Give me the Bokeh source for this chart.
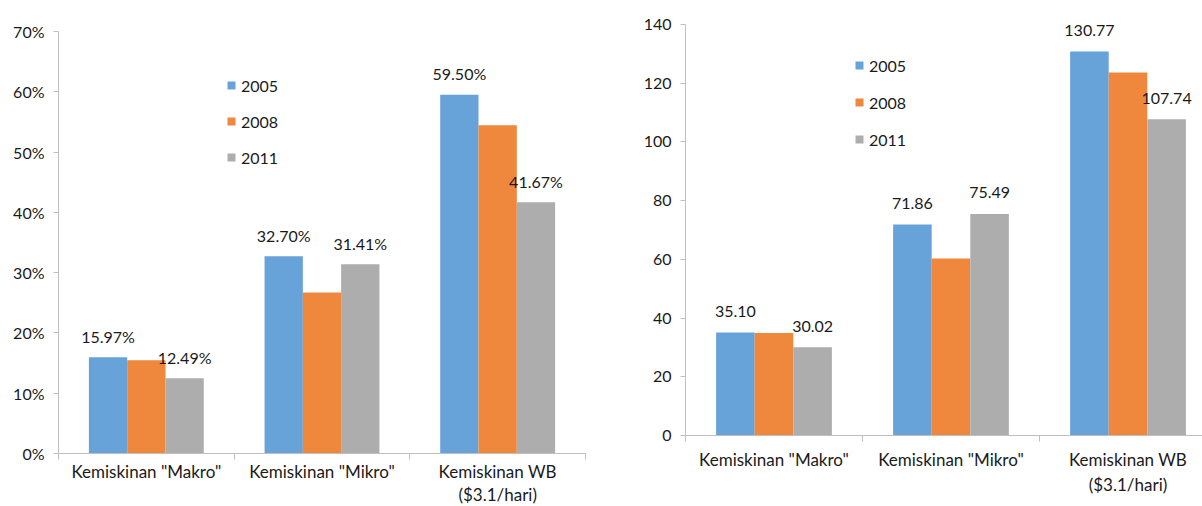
import numpy as np
from jinja2 import Template
from bokeh.plotting import figure
from bokeh.models import (Range1d, FixedTicker, PrintfTickFormatter, Legend,
                          LegendItem, ColumnDataSource)
from bokeh.embed import file_html
from bokeh.resources import INLINE
from bokeh.core.properties import value

# --- data -------------------------------------------------------------
categories = ['Kemiskinan "Makro"', 'Kemiskinan "Mikro"', 'Kemiskinan WB\n($3.1/hari)']
years = ["2005", "2008", "2011"]

# poverty rate (%)
rate_2005 = [15.97, 32.70, 59.50]
rate_2008 = [15.45, 26.70, 54.45]
rate_2011 = [12.49, 31.41, 41.67]

# number of poor people (millions)
count_2005 = [35.10, 71.86, 130.77]
count_2008 = [34.95, 60.25, 123.65]
count_2011 = [30.02, 75.49, 107.74]

# --- style ------------------------------------------------------------
FONT = "Lato"
TEXT = "#1a1a1a"
AXIS = "#bfbfbf"
COLORS = ["#67a3d9", "#ef873d", "#adadad"]
BAR_W = 0.218
OFFSETS = [-BAR_W, 0.0, BAR_W]


def make_panel(series, y_end, y_step, fmt, label_fmt, width, height,
               border_left, border_right, border_top, border_bottom,
               x_end, legend_loc, legend_spacing, cat_standoff, cat_line_height):
    p = figure(width=width, height=height, output_backend="svg",
               toolbar_location=None, x_range=Range1d(0, x_end),
               y_range=Range1d(0, y_end),
               min_border_left=border_left, min_border_right=border_right,
               min_border_top=border_top, min_border_bottom=border_bottom)
    p.background_fill_color = "white"
    p.border_fill_color = "white"
    p.outline_line_color = None
    p.grid.visible = False

    centers = np.arange(len(categories)) + 0.5
    items = []
    for i, (vals, yr) in enumerate(zip(series, years)):
        src = ColumnDataSource(dict(x=centers + OFFSETS[i], top=vals,
                                    label=[label_fmt % v for v in vals]))
        r = p.vbar(x="x", top="top", width=BAR_W, bottom=0, source=src,
                   fill_color=COLORS[i], line_color=None)
        items.append(LegendItem(label=yr, renderers=[r]))
        # value labels on the first and last series only
        if i != 1:
            p.text(x="x", y="top", text="label", source=src,
                   text_font=value(FONT), text_font_size="16px",
                   text_color=TEXT, text_align="center",
                   text_baseline="middle", y_offset=-21)

    legend = Legend(items=items, location=legend_loc, orientation="vertical",
                    glyph_width=10, glyph_height=10, label_height=20,
                    label_standoff=5, spacing=legend_spacing, padding=0,
                    margin=0, border_line_color=None,
                    background_fill_alpha=0, label_text_font=FONT,
                    label_text_font_size="16px", label_text_color=TEXT)
    p.add_layout(legend, "center")

    # y axis
    yax = p.yaxis[0]
    yax.ticker = FixedTicker(ticks=list(np.arange(0, y_end + 0.001, y_step)))
    yax.formatter = PrintfTickFormatter(format=fmt)
    yax.axis_line_color = AXIS
    yax.major_tick_line_color = AXIS
    yax.major_tick_out = 5
    yax.major_tick_in = 0
    yax.minor_tick_line_color = None
    yax.major_label_standoff = 9
    yax.major_label_text_font = FONT
    yax.major_label_text_font_size = "16px"
    yax.major_label_text_color = TEXT

    # x axis: tick marks between categories, labels at category centres
    xax = p.xaxis[0]
    xax.ticker = FixedTicker(ticks=list(centers),
                             minor_ticks=list(range(len(categories) + 1)))
    xax.major_label_overrides = {float(c): cat for c, cat in zip(centers, categories)}
    xax.axis_line_color = AXIS
    xax.major_tick_line_color = None
    xax.major_tick_out = 0
    xax.major_tick_in = 0
    xax.minor_tick_line_color = AXIS
    xax.minor_tick_out = 6
    xax.minor_tick_in = 0
    xax.major_label_standoff = cat_standoff
    xax.major_label_text_font = FONT
    xax.major_label_text_font_size = "17px"
    xax.major_label_text_line_height = cat_line_height
    xax.major_label_text_color = TEXT
    return p


left = make_panel([rate_2005, rate_2008, rate_2011], 70, 10, "%d%%", "%.2f%%",
                  width=600, height=512, border_left=58, border_right=15,
                  border_top=31, border_bottom=59, x_end=3,
                  legend_loc=(168, 286), legend_spacing=16, cat_standoff=1,
                  cat_line_height=1.1)
right = make_panel([count_2005, count_2008, count_2011], 140, 20, "%d", "%.2f",
                   width=602, height=506, border_left=85, border_right=0,
                   border_top=24, border_bottom=71, x_end=517 / 177,
                   legend_loc=(169, 286), legend_spacing=17, cat_standoff=7,
                   cat_line_height=1.2)

# two independent panels side by side (each keeps its own frame position)
page = Template("""{% extends base %}
{% block postamble %}
<style>
  html, body { overflow: hidden !important; }
  body { display: flex !important; flex-direction: row; align-items: flex-start; }
</style>
{% endblock %}""")

open("out.html", "w").write(file_html([left, right], INLINE, template=page))
